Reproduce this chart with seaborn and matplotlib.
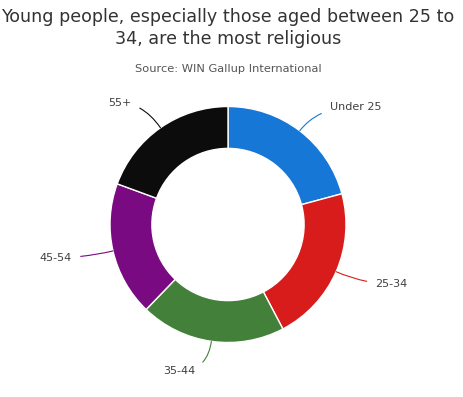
import numpy as np
import matplotlib
matplotlib.use('Agg')
import matplotlib.pyplot as plt
import seaborn as sns

# data (share of religious people by age group, %)
age_groups = ['Under 25', '25-34', '35-44', '45-54', '55+']
shares = [20.8, 21.5, 19.9, 18.4, 19.4]
colors = ['#1777d6', '#d81c1c', '#43813a', '#7a0a82', '#0c0c0c']

title = 'Young people, especially those aged between 25 to\n34, are the most religious'
subtitle = 'Source: WIN Gallup International'

sns.set_style('white')
plt.rcParams['font.family'] = ['DejaVu Sans']

W, H, DPI = 464, 397, 100
fig = plt.figure(figsize=(W / DPI, H / DPI), dpi=DPI)
ax = fig.add_axes([0, 0, 1, 1])

# donut centre and radius in pixels, used to set the axes scale
cx, cy, rad = 228, 224.5, 118
wedges, _ = ax.pie(shares, colors=colors, startangle=90, counterclock=False,
                   wedgeprops=dict(width=0.355, edgecolor='white', linewidth=1))
ax.set_xlim(-cx / rad, (W - cx) / rad)
ax.set_ylim(-(H - cy) / rad, cy / rad)
ax.set_aspect('auto')
ax.axis('off')

# labels with curved connectors, like the highcharts original
for w, lab, col in zip(wedges, age_groups, colors):
    mid = np.deg2rad((w.theta1 + w.theta2) / 2)
    x, y = np.cos(mid), np.sin(mid)
    side = 1 if x >= 0 else -1
    ax.annotate(lab, xy=(x, y), xytext=(1.255 * x + 0.1 * side, 1.255 * y),
                ha='left' if side > 0 else 'right', va='center',
                fontsize=8, color='#404040',
                arrowprops=dict(arrowstyle='-', color=col, lw=0.8,
                                shrinkA=4, shrinkB=0,
                                connectionstyle='angle3,angleA=0,angleB=%.1f'
                                % np.rad2deg(mid)))

fig.text(228 / W, 1 - 28 / H, title, ha='center', va='center', fontsize=12.6,
         color='#333333', linespacing=1.25)
fig.text(228 / W, 1 - 69 / H, subtitle, ha='center', va='center', fontsize=8.2,
         color='#555555')

fig.savefig('out.png', dpi=DPI)
